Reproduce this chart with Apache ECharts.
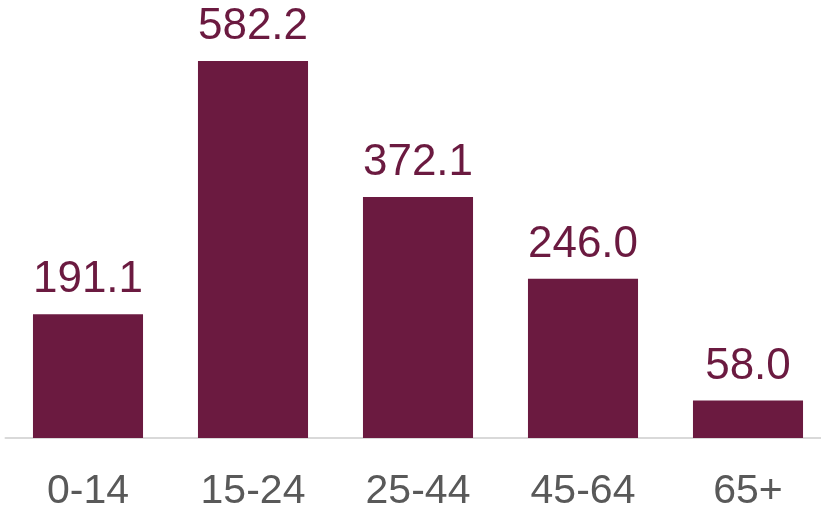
<!DOCTYPE html>
<html>
<head>
<meta charset="utf-8">
<script src="https://cdn.jsdelivr.net/npm/echarts@6/dist/echarts.min.js"></script>
<style>
  html, body { margin: 0; padding: 0; background: #ffffff; }
  #chart { width: 821px; height: 508px; }
</style>
</head>
<body>
<div id="chart"></div>
<script>
// Age groups and their values
const categories = ['0-14', '15-24', '25-44', '45-64', '65+'];
const values = [191.1, 582.2, 372.1, 246.0, 58.0];

const barColor = '#6b1a40';

const chart = echarts.init(document.getElementById('chart'), null, { renderer: 'canvas' });

chart.setOption({
  animation: false,
  grid: {
    left: 5.5, width: 825, top: 61, bottom: 70,
    containLabel: false,
    outerBoundsMode: 'none'
  },
  xAxis: {
    type: 'category',
    data: categories,
    axisLine: { show: true, lineStyle: { color: '#d9d9d9', width: 2 } },
    axisTick: { show: false },
    axisLabel: {
      color: '#595959',
      fontFamily: 'Liberation Sans',
      fontSize: 41,
      margin: 33
    }
  },
  yAxis: {
    type: 'value',
    min: 0,
    max: 582.2,
    show: false,
    splitLine: { show: false }
  },
  series: [{
    type: 'bar',
    data: values,
    barCategoryGap: '33.3%',
    itemStyle: { color: barColor },
    label: {
      show: true,
      position: 'top',
      distance: 12,
      color: barColor,
      fontFamily: 'Liberation Sans',
      fontSize: 44,
      formatter: p => p.value.toFixed(1)
    }
  }]
});
</script>
</body>
</html>
